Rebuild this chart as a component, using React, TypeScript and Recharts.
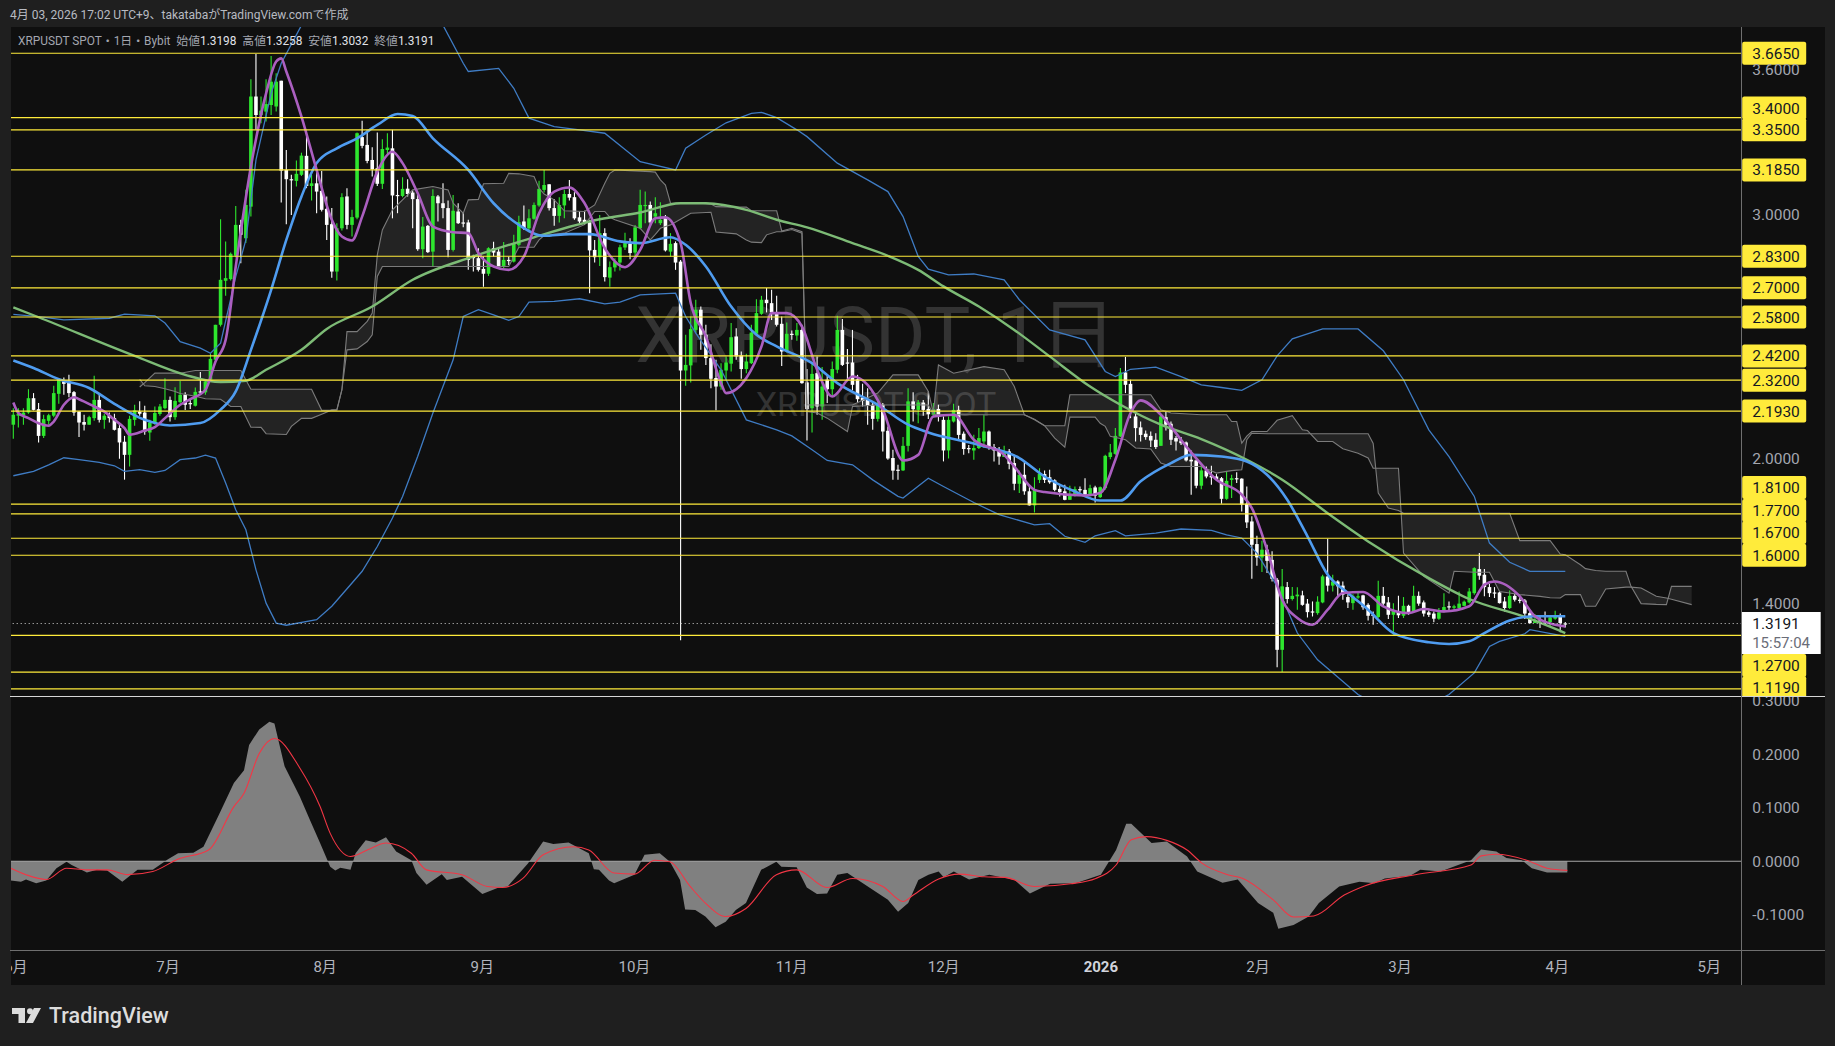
import React from 'react';
import { ComposedChart, Bar, Line, Area, XAxis, YAxis, ReferenceLine } from 'recharts';

// Daily candles, May 31 2025 .. Apr 3 2026
const opens = [
  2.137,2.174,2.176,2.187,2.246,2.201,2.091,2.153,2.174,2.264,2.315,2.315,2.271,2.191,2.148,2.137,2.164,2.239,2.157,2.176,
  2.164,2.123,2.067,2.013,2.157,2.191,2.187,2.105,2.141,2.181,2.205,2.239,2.168,2.230,2.260,2.226,2.215,2.274,2.270,2.322,
  2.404,2.548,2.729,2.736,2.832,2.959,2.904,3.034,3.487,3.411,3.425,3.452,3.446,3.552,3.185,3.147,3.140,3.165,3.243,3.119,
  3.130,3.099,3.025,2.962,2.767,2.945,3.076,2.959,2.989,3.320,3.288,3.226,3.192,3.128,3.267,3.274,3.082,3.078,3.108,3.092,
  3.065,2.859,2.955,2.849,3.076,3.048,3.028,2.856,3.014,2.969,2.969,2.829,2.822,2.778,2.758,2.863,2.849,2.790,2.815,2.808,
  2.877,2.973,2.945,2.984,3.039,3.103,3.126,3.028,2.996,3.039,3.086,3.073,2.990,2.980,2.970,2.856,2.826,2.925,2.742,2.784,
  2.804,2.866,2.881,2.845,2.945,3.039,3.041,2.993,2.966,2.990,2.849,2.884,2.808,2.360,2.381,2.527,2.610,2.507,2.411,2.329,
  2.294,2.360,2.388,2.500,2.422,2.366,2.390,2.511,2.593,2.651,2.637,2.599,2.552,2.438,2.511,2.504,2.527,2.311,2.205,2.349,
  2.212,2.322,2.283,2.363,2.527,2.393,2.393,2.324,2.249,2.240,2.219,2.161,2.219,2.112,2.000,1.952,1.949,2.050,2.233,2.198,
  2.228,2.202,2.178,2.202,2.157,2.031,2.150,2.198,2.100,2.041,2.031,2.041,2.068,2.109,2.045,2.031,2.004,2.027,1.979,1.894,
  1.931,1.863,1.805,1.910,1.934,1.921,1.908,1.873,1.863,1.828,1.849,1.872,1.869,1.849,1.879,1.839,1.876,2.004,2.017,2.089,
  2.352,2.305,2.171,2.126,2.100,2.091,2.075,2.050,2.168,2.141,2.082,2.072,2.064,1.993,1.990,1.886,1.949,1.927,1.924,1.917,
  1.832,1.910,1.917,1.915,1.812,1.739,1.646,1.591,1.623,1.581,1.499,1.211,1.469,1.420,1.431,1.435,1.401,1.369,1.362,1.406,
  1.513,1.475,1.492,1.475,1.428,1.403,1.428,1.435,1.396,1.355,1.346,1.433,1.406,1.355,1.365,1.351,1.392,1.369,1.433,1.406,
  1.365,1.360,1.339,1.369,1.390,1.384,1.383,1.392,1.406,1.444,1.543,1.520,1.469,1.447,1.447,1.410,1.383,1.433,1.417,1.414,
  1.362,1.321,1.338,1.328,1.325,1.339,1.351,1.3198,
];
const highs = [
  2.205,2.205,2.205,2.283,2.267,2.226,2.178,2.182,2.297,2.328,2.331,2.342,2.276,2.191,2.178,2.174,2.338,2.260,2.182,2.187,
  2.182,2.141,2.091,2.174,2.219,2.233,2.215,2.157,2.212,2.222,2.328,2.253,2.291,2.317,2.270,2.242,2.290,2.354,2.322,2.428,
  2.548,2.982,2.891,2.845,3.037,2.980,3.103,3.558,3.662,3.487,3.558,3.654,3.583,3.552,3.267,3.165,3.224,3.256,3.333,3.165,
  3.185,3.181,3.076,3.028,2.966,3.089,3.110,3.021,3.339,3.387,3.350,3.278,3.339,3.311,3.336,3.350,3.144,3.155,3.147,3.100,
  3.082,2.991,2.959,3.106,3.082,3.130,3.059,3.082,3.048,3.010,2.980,2.836,2.863,2.829,2.867,2.890,2.863,2.889,2.829,2.918,
  2.997,3.039,3.023,3.051,3.141,3.185,3.126,3.065,3.073,3.103,3.144,3.093,3.014,3.017,2.980,2.897,3.000,2.945,2.808,2.822,
  2.877,2.927,2.904,2.959,3.103,3.096,3.055,3.073,3.052,3.000,2.925,2.891,2.815,2.507,2.582,2.651,2.623,2.548,2.468,2.404,
  2.390,2.418,2.555,2.534,2.438,2.429,2.548,2.653,2.667,2.699,2.692,2.667,2.582,2.557,2.525,2.555,2.548,2.366,2.390,2.418,
  2.374,2.338,2.397,2.585,2.572,2.448,2.527,2.342,2.305,2.287,2.226,2.233,2.226,2.130,2.034,1.972,2.086,2.287,2.270,2.239,
  2.239,2.274,2.226,2.219,2.171,2.171,2.223,2.215,2.109,2.054,2.096,2.123,2.178,2.113,2.058,2.045,2.050,2.037,2.013,1.949,
  1.986,1.883,1.921,1.958,1.949,1.952,1.913,1.886,1.890,1.886,1.883,1.883,1.917,1.890,1.886,1.883,2.013,2.058,2.123,2.370,
  2.416,2.322,2.191,2.150,2.113,2.109,2.102,2.174,2.191,2.150,2.091,2.086,2.068,2.031,1.993,1.976,1.965,1.968,1.934,1.922,
  1.945,1.931,1.941,1.917,1.883,1.760,1.680,1.660,1.643,1.616,1.506,1.543,1.490,1.469,1.468,1.454,1.420,1.410,1.431,1.520,
  1.668,1.520,1.497,1.492,1.440,1.440,1.451,1.438,1.403,1.369,1.495,1.469,1.428,1.403,1.433,1.428,1.396,1.475,1.451,1.414,
  1.373,1.369,1.383,1.444,1.410,1.396,1.451,1.414,1.465,1.551,1.609,1.543,1.483,1.469,1.451,1.428,1.455,1.442,1.433,1.420,
  1.373,1.358,1.349,1.369,1.351,1.372,1.360,1.3258,
];
const lows = [
  2.079,2.126,2.137,2.182,2.196,2.064,2.082,2.137,2.168,2.223,2.260,2.250,2.174,2.086,2.113,2.137,2.153,2.146,2.120,2.146,
  2.113,1.997,1.911,1.965,2.133,2.174,2.096,2.071,2.137,2.174,2.201,2.150,2.157,2.226,2.198,2.202,2.212,2.260,2.260,2.315,
  2.397,2.541,2.667,2.730,2.826,2.801,2.884,2.993,3.350,3.377,3.384,3.411,3.425,3.051,2.962,3.000,3.117,3.160,3.110,3.059,
  3.007,3.014,2.897,2.742,2.730,2.936,2.941,2.911,2.982,3.274,3.213,3.158,3.119,3.107,3.247,2.986,3.007,3.073,3.076,2.945,
  2.853,2.822,2.843,2.788,2.973,2.986,2.826,2.849,2.963,2.949,2.774,2.767,2.767,2.705,2.749,2.829,2.788,2.781,2.794,2.804,
  2.870,2.938,2.938,2.980,3.034,3.092,3.018,2.955,2.969,2.986,3.059,2.980,2.966,2.959,2.678,2.804,2.790,2.726,2.705,2.767,
  2.771,2.856,2.818,2.822,2.941,2.966,2.959,2.966,2.959,2.849,2.829,2.774,1.250,2.297,2.311,2.514,2.445,2.383,2.287,2.196,
  2.281,2.322,2.356,2.404,2.326,2.349,2.387,2.507,2.589,2.599,2.568,2.541,2.379,2.434,2.486,2.482,2.305,2.072,2.105,2.178,
  2.157,2.226,2.256,2.349,2.379,2.322,2.278,2.226,2.212,2.137,2.116,2.150,2.027,1.993,1.911,1.911,1.947,2.027,2.150,2.143,
  2.174,2.160,2.168,2.150,1.986,1.998,2.146,2.072,2.013,2.020,1.993,2.037,2.041,2.034,1.986,1.972,2.004,1.954,1.867,1.856,
  1.849,1.805,1.776,1.897,1.897,1.894,1.863,1.842,1.826,1.828,1.842,1.858,1.842,1.842,1.817,1.835,1.869,1.995,2.013,2.086,
  2.267,2.164,2.068,2.068,2.075,2.045,2.037,2.050,2.113,2.054,2.031,2.054,1.986,1.849,1.876,1.872,1.917,1.890,1.910,1.812,
  1.828,1.835,1.897,1.780,1.712,1.503,1.557,1.531,1.527,1.492,1.139,1.120,1.401,1.414,1.376,1.392,1.344,1.348,1.355,1.403,
  1.451,1.451,1.431,1.417,1.383,1.376,1.421,1.376,1.332,1.314,1.342,1.392,1.338,1.273,1.342,1.342,1.355,1.365,1.392,1.348,
  1.346,1.324,1.335,1.365,1.373,1.376,1.379,1.390,1.401,1.438,1.499,1.431,1.428,1.424,1.401,1.369,1.379,1.410,1.403,1.338,
  1.318,1.321,1.301,1.318,1.305,1.335,1.283,1.3032,
];
const closes = [
  2.178,2.182,2.187,2.246,2.198,2.091,2.160,2.176,2.267,2.324,2.305,2.267,2.187,2.146,2.137,2.168,2.239,2.157,2.174,2.164,
  2.116,2.064,2.013,2.161,2.196,2.182,2.109,2.146,2.185,2.212,2.239,2.168,2.235,2.260,2.219,2.222,2.272,2.270,2.315,2.408,
  2.548,2.733,2.740,2.840,2.959,2.918,3.041,3.487,3.411,3.429,3.456,3.548,3.548,3.182,3.147,3.143,3.169,3.244,3.119,3.130,
  3.096,3.021,2.959,2.767,2.945,3.073,2.959,2.991,3.336,3.284,3.222,3.188,3.128,3.271,3.277,3.080,3.078,3.107,3.086,3.065,
  2.859,2.952,2.847,3.078,3.048,3.028,2.856,3.017,2.966,2.966,2.815,2.822,2.774,2.758,2.863,2.845,2.790,2.815,2.811,2.881,
  2.970,2.945,2.986,3.041,3.107,3.123,3.028,2.996,3.041,3.086,3.071,2.986,2.973,2.970,2.854,2.826,2.925,2.744,2.785,2.808,
  2.867,2.884,2.843,2.949,3.041,3.041,2.969,3.007,2.980,2.854,2.881,2.804,2.360,2.383,2.530,2.610,2.507,2.411,2.326,2.294,
  2.363,2.393,2.497,2.418,2.366,2.397,2.516,2.596,2.651,2.637,2.599,2.548,2.438,2.511,2.508,2.527,2.308,2.201,2.346,2.212,
  2.294,2.283,2.366,2.527,2.383,2.389,2.301,2.242,2.235,2.215,2.161,2.219,2.109,1.998,1.948,1.948,2.050,2.233,2.201,2.228,
  2.198,2.180,2.201,2.171,2.031,2.157,2.198,2.095,2.037,2.037,2.041,2.082,2.109,2.041,2.031,2.006,2.027,1.976,1.894,1.931,
  1.863,1.805,1.872,1.935,1.910,1.900,1.869,1.860,1.828,1.845,1.872,1.867,1.849,1.876,1.845,1.880,2.009,2.023,2.091,2.352,
  2.301,2.191,2.123,2.095,2.086,2.072,2.045,2.171,2.137,2.075,2.068,2.061,1.990,1.986,1.886,1.949,1.924,1.920,1.913,1.832,
  1.906,1.917,1.913,1.808,1.735,1.643,1.591,1.623,1.577,1.503,1.211,1.472,1.420,1.433,1.438,1.396,1.366,1.365,1.409,1.513,
  1.475,1.492,1.472,1.438,1.406,1.431,1.431,1.386,1.351,1.353,1.433,1.401,1.355,1.373,1.353,1.392,1.360,1.433,1.401,1.360,
  1.355,1.339,1.365,1.387,1.387,1.390,1.401,1.409,1.451,1.547,1.516,1.469,1.444,1.444,1.403,1.383,1.433,1.417,1.413,1.360,
  1.321,1.335,1.331,1.324,1.344,1.351,1.321,1.3191,
];

// Indicator curves as [bar index, price] points
const smaLine: [number, number][] = [
  [0,2.620],[5,2.579],[24,2.420],[34,2.342],[41,2.312],[46,2.318],[50,2.363],[57,2.445],[62,2.531],[71,2.623],[79,2.733],[91,2.829],
  [103,2.908],[116,2.982],[124,3.010],[132,3.048],[137,3.048],[145,3.021],[151,2.980],[157,2.949],[166,2.884],[173,2.832],[179,2.774],
  [184,2.706],[191,2.623],[198,2.527],[205,2.418],[213,2.294],[219,2.219],[227,2.137],[235,2.078],[244,1.993],[251,1.911],[260,1.773],
  [268,1.657],[280,1.506],[288,1.420],[299,1.346],[307,1.280],
];
const bbMid: [number, number][] = [
  [0,2.401],[4,2.370],[9,2.324],[15,2.288],[20,2.223],[26,2.157],[31,2.134],[37,2.144],[41,2.199],[44,2.274],[47,2.445],[51,2.692],
  [54,2.897],[57,3.076],[60,3.213],[64,3.274],[68,3.315],[72,3.370],[76,3.415],[79,3.407],[83,3.315],[90,3.185],[95,3.048],[100,2.959],
  [105,2.914],[110,2.921],[114,2.921],[120,2.891],[124,2.884],[130,2.908],[133,2.877],[137,2.788],[142,2.623],[147,2.507],[151,2.459],
  [158,2.390],[163,2.308],[171,2.219],[177,2.137],[181,2.105],[191,2.054],[199,2.000],[204,1.924],[210,1.862],[215,1.825],[219,1.825],
  [223,1.904],[229,1.979],[233,2.013],[239,2.006],[244,1.986],[248,1.931],[252,1.828],[256,1.678],[260,1.520],[264,1.445],[268,1.376],
  [273,1.280],[280,1.242],[284,1.235],[288,1.246],[291,1.280],[296,1.332],[301,1.349],[307,1.349],
];
const bbUpper: [number, number][] = [
  [0,2.591],[5,2.582],[10,2.568],[19,2.575],[22,2.592],[28,2.585],[30,2.555],[33,2.479],[37,2.452],[39,2.431],[41,2.472],[44,2.746],
  [46,2.897],[48,3.226],[51,3.500],[53,3.624],[57,3.780],[70,4.300],[85,3.780],[89,3.624],[90,3.590],[96,3.603],[99,3.521],[102,3.398],
  [107,3.363],[112,3.350],[117,3.336],[124,3.219],[131,3.185],[133,3.274],[137,3.329],[141,3.379],[146,3.418],[148,3.422],[151,3.400],
  [155,3.350],[157,3.322],[163,3.213],[169,3.144],[173,3.096],[176,2.993],[179,2.829],[181,2.777],[185,2.753],[190,2.757],[196,2.733],
  [199,2.651],[205,2.527],[212,2.486],[216,2.356],[218,2.335],[221,2.365],[226,2.374],[231,2.335],[235,2.301],[239,2.290],[243,2.278],
  [247,2.322],[250,2.420],[253,2.490],[259,2.531],[266,2.531],[271,2.441],[275,2.322],[280,2.116],[284,2.006],[289,1.842],[292,1.650],
  [296,1.571],[300,1.534],[307,1.534],
];
const bbLower: [number, number][] = [
  [0,1.927],[4,1.945],[7,1.972],[10,2.001],[13,1.993],[17,1.982],[20,1.968],[22,1.945],[25,1.952],[28,1.941],[30,1.949],[33,1.993],
  [36,2.000],[38,2.012],[40,2.000],[42,1.897],[44,1.787],[46,1.705],[48,1.540],[50,1.403],[52,1.321],[54,1.312],[60,1.335],[63,1.390],
  [67,1.486],[69,1.534],[72,1.636],[75,1.753],[77,1.842],[80,2.007],[83,2.185],[87,2.404],[89,2.582],[92,2.610],[95,2.589],[98,2.566],
  [100,2.582],[102,2.641],[107,2.644],[112,2.655],[117,2.634],[120,2.641],[124,2.671],[131,2.678],[133,2.582],[135,2.514],[140,2.363],
  [145,2.157],[151,2.116],[154,2.091],[158,2.034],[161,1.990],[166,1.972],[170,1.910],[175,1.842],[176,1.835],[181,1.917],[184,1.883],
  [190,1.817],[195,1.767],[202,1.725],[205,1.730],[208,1.678],[212,1.653],[214,1.680],[218,1.701],[220,1.680],[226,1.691],[231,1.708],
  [237,1.702],[240,1.684],[243,1.671],[246,1.609],[250,1.472],[254,1.280],[258,1.170],[266,1.027],[275,0.930],[284,1.027],[289,1.116],
  [292,1.225],[294,1.246],[299,1.277],[300,1.294],[307,1.266],
];
const fastLine: [number, number][] = [
  [0,2.228],[1,2.185],[3,2.164],[5,2.143],[7,2.133],[8,2.150],[10,2.219],[12,2.250],[13,2.242],[16,2.212],[18,2.191],[20,2.157],[22,2.123],
  [23,2.096],[26,2.113],[28,2.127],[30,2.164],[33,2.219],[35,2.242],[38,2.281],[40,2.397],[42,2.486],[44,2.788],[47,3.199],[50,3.500],
  [52,3.631],[53,3.644],[54,3.590],[57,3.404],[60,3.185],[63,2.980],[65,2.911],[67,2.895],[69,2.993],[72,3.178],[75,3.260],[77,3.213],
  [80,3.089],[83,2.952],[87,2.929],[90,2.925],[92,2.843],[95,2.788],[98,2.774],[101,2.829],[104,3.007],[107,3.096],[110,3.113],[113,3.048],
  [117,2.863],[121,2.785],[124,2.856],[127,2.986],[129,2.990],[132,2.884],[134,2.637],[137,2.500],[140,2.308],[141,2.267],[145,2.329],
  [148,2.459],[150,2.596],[153,2.596],[156,2.541],[159,2.363],[162,2.253],[166,2.335],[169,2.301],[172,2.198],[176,1.990],[179,2.013],
  [182,2.171],[186,2.178],[190,2.075],[196,2.013],[198,1.965],[202,1.869],[204,1.860],[212,1.846],[215,1.856],[218,1.993],[221,2.185],
  [223,2.237],[227,2.178],[232,2.048],[238,1.911],[243,1.849],[245,1.794],[248,1.623],[251,1.417],[254,1.342],[257,1.314],[260,1.376],
  [263,1.445],[267,1.449],[271,1.390],[276,1.362],[279,1.379],[283,1.369],[288,1.390],[291,1.479],[293,1.492],[298,1.431],[301,1.349],
  [305,1.314],[307,1.307],
];

// Ichimoku cloud, both spans on the same bar indexes
const cloudIdx = [
  25,26,28,30,32,33,36,38,41,43,45,47,49,50,54,55,57,59,61,63,64,65,66,68,70,71,72,73,75,79,83,86,87,89,90,92,93,97,98,100,103,104,105,107,109,
  113,115,117,118,119,124,126,127,128,129,130,134,138,139,143,145,146,148,149,151,152,154,156,157,159,161,165,166,171,174,179,181,182,183,186,
  192,196,198,200,202,204,206,208,209,214,215,216,217,220,222,225,227,229,235,238,240,241,242,243,244,245,248,250,253,255,256,258,261,263,266,
  268,269,270,272,274,275,279,284,285,289,292,294,296,298,302,304,306,307,310,311,313,315,319,320,322,325,327,328,332,
];
const spanA = [
  2.292,2.310,2.349,2.349,2.349,2.349,2.360,2.360,2.360,2.360,2.360,2.283,2.283,2.283,2.283,2.283,2.283,2.283,2.196,2.196,2.198,2.281,2.520,2.520,2.562,2.596,2.836,2.938,3.021,3.103,3.117,3.103,3.048,3.007,3.062,3.064,3.128,3.130,3.171,3.169,3.158,3.110,3.086,3.062,3.017,
  3.014,3.041,3.130,3.171,3.185,3.180,3.178,3.176,3.144,3.123,3.048,3.050,3.045,3.034,3.032,3.032,3.017,3.017,3.017,3.017,2.934,2.945,2.931,2.219,2.218,2.218,2.218,2.218,2.267,2.342,2.342,2.274,2.185,2.383,2.349,
  2.376,2.363,2.294,2.178,2.160,2.133,2.133,2.133,2.260,2.260,2.260,2.260,2.260,2.260,2.260,2.260,2.198,2.185,2.178,2.178,2.178,2.150,2.150,2.061,2.090,2.109,2.109,2.155,2.174,2.116,2.113,2.068,2.068,2.038,2.020,
  2.000,1.958,1.958,1.958,1.958,1.609,1.513,1.444,1.534,1.530,1.530,1.451,1.445,1.438,1.431,1.425,1.424,1.438,1.438,1.390,1.390,1.461,1.469,1.469,1.465,1.431,1.424,1.419,1.397,
];
const spanB = [
  2.324,2.297,2.294,2.285,2.274,2.265,2.254,2.244,2.242,2.212,2.212,2.127,2.126,2.100,2.097,2.130,2.163,2.163,2.180,2.198,2.198,2.281,2.445,2.449,2.479,2.507,2.747,2.788,2.788,2.788,2.788,2.788,2.788,2.788,2.788,2.788,2.788,2.788,2.788,2.867,2.867,2.897,2.915,2.920,2.925,
  2.960,3.014,3.014,2.990,2.980,2.945,2.897,2.920,2.945,2.952,2.959,3.007,3.011,2.930,2.922,2.897,2.888,2.886,2.918,2.931,2.931,2.940,2.925,2.191,2.185,2.164,2.109,2.212,2.218,2.218,2.218,2.218,2.180,2.178,2.178,
  2.178,2.178,2.178,2.178,2.157,2.133,2.082,2.045,2.168,2.168,2.143,2.130,2.089,2.075,2.041,2.037,1.979,1.965,1.965,1.938,1.945,1.948,1.950,1.952,2.075,2.102,2.100,2.100,2.100,2.100,2.100,2.100,2.100,2.100,2.100,
  2.100,2.060,1.856,1.794,1.784,1.773,1.773,1.773,1.773,1.773,1.773,1.773,1.773,1.660,1.660,1.660,1.605,1.602,1.561,1.545,1.537,1.534,1.534,1.472,1.401,1.398,1.397,1.472,1.472,
];

// Lower pane
const oscArea: [number, number][] = [
  [0,-0.036],[2,-0.038],[3,-0.034],[5,-0.041],[7,-0.036],[9,-0.013],[11,-0.001],[12,-0.007],[15,-0.021],[17,-0.016],[19,-0.017],[22,-0.038],
  [25,-0.016],[28,-0.016],[31,0.004],[33,0.015],[36,0.016],[38,0.027],[41,0.086],[44,0.146],[46,0.170],[47,0.217],[49,0.246],[51,0.260],
  [52,0.257],[54,0.177],[57,0.121],[59,0.077],[61,0.034],[63,-0.010],[64,-0.017],[65,-0.012],[67,-0.016],[68,0.015],[70,0.039],[72,0.035],
  [74,0.045],[76,0.018],[79,0.002],[80,-0.022],[82,-0.044],[85,-0.024],[86,-0.035],[89,-0.029],[93,-0.061],[96,-0.050],[98,-0.047],[102,-0.004],
  [105,0.037],[107,0.032],[110,0.035],[114,0.015],[115,-0.015],[116,-0.016],[118,-0.036],[119,-0.041],[123,-0.025],[125,0.012],[128,0.015],
  [130,-0.001],[132,-0.035],[133,-0.090],[135,-0.091],[137,-0.103],[139,-0.123],[141,-0.113],[143,-0.091],[145,-0.078],[148,-0.016],[151,-0.001],
  [152,-0.010],[155,-0.011],[157,-0.049],[159,-0.061],[161,-0.060],[163,-0.025],[165,-0.022],[170,-0.053],[173,-0.072],[175,-0.094],[177,-0.078],
  [179,-0.035],[181,-0.025],[183,-0.019],[184,-0.030],[186,-0.019],[189,-0.034],[193,-0.025],[198,-0.035],[201,-0.060],[205,-0.042],[210,-0.041],
  [215,-0.025],[218,0.021],[220,0.070],[221,0.070],[225,0.034],[228,0.037],[232,0.009],[234,-0.019],[239,-0.040],[242,-0.034],[246,-0.078],
  [249,-0.096],[250,-0.126],[253,-0.119],[256,-0.103],[258,-0.078],[262,-0.047],[266,-0.038],[269,-0.041],[271,-0.032],[276,-0.027],[278,-0.016],
  [282,-0.019],[286,-0.005],[288,0.002],[290,0.022],[293,0.018],[295,0.006],[298,0.002],[300,-0.013],[303,-0.021],[307,-0.021],
];
const oscSignal: [number, number][] = [
  [0,-0.013],[3,-0.025],[7,-0.034],[11,-0.013],[15,-0.016],[19,-0.016],[23,-0.025],[28,-0.019],[33,0.004],[39,0.021],[44,0.102],[46,0.127],
  [49,0.201],[52,0.229],[57,0.174],[61,0.102],[63,0.052],[67,0.009],[71,0.024],[74,0.034],[79,0.015],[82,-0.016],[89,-0.025],[94,-0.047],
  [97,-0.049],[101,-0.032],[105,0.012],[111,0.027],[114,0.021],[119,-0.022],[123,-0.024],[127,0.002],[130,-0.001],[134,-0.047],[137,-0.078],
  [141,-0.103],[145,-0.088],[151,-0.025],[155,-0.016],[161,-0.049],[166,-0.032],[172,-0.047],[176,-0.075],[178,-0.063],[183,-0.033],[187,-0.024],
  [192,-0.029],[196,-0.030],[202,-0.047],[209,-0.042],[214,-0.032],[218,-0.007],[221,0.040],[224,0.046],[228,0.039],[232,0.021],[235,-0.004],
  [240,-0.025],[243,-0.032],[249,-0.072],[253,-0.104],[257,-0.102],[263,-0.063],[267,-0.046],[277,-0.025],[288,-0.007],[290,0.010],[293,0.013],
  [299,0.002],[303,-0.013],[307,-0.017],
];

// Horizontal support/resistance levels drawn by the author
const levels = [3.665, 3.4, 3.35, 3.185, 2.83, 2.7, 2.58, 2.42, 2.32, 2.193, 1.81, 1.77, 1.67, 1.6, 1.27, 1.119];
const extraLevel = 1.05;
const lastPrice = 1.3191;
// the other round prices sit behind the yellow level tags in the reference
const priceTicks = [3.6, 3.0, 2.0, 1.4];
const oscTicks = [0.3, 0.2, 0.1, 0, -0.1];
const monthTicks = [1, 31, 62, 93, 123, 154, 184, 215, 246, 274, 305, 335];
const monthNames = ['6月', '7月', '8月', '9月', '10月', '11月', '12月', '2026', '2月', '3月', '4月', '5月'];

// Axis tags get pushed apart when they would overlap
const TAG_SHIFT: Record<number, number> = { 3.4: -9.6, 1.81: -16.6, 1.77: -3.3, 1.67: -5.8, 1.27: 30, 1.119: 15.5 };

const BAR_COUNT = 342;
const FONT = 'Roboto, "Noto Sans CJK JP", sans-serif';
const GREEN = '#2ee62e';

const byIndex = (pts: [number, number][]) => new Map(pts.map(p => [p[0], p[1]]));
const smaMap = byIndex(smaLine);
const midMap = byIndex(bbMid);
const upMap = byIndex(bbUpper);
const lowMap = byIndex(bbLower);
const fastMap = byIndex(fastLine);
const areaMap = byIndex(oscArea);
const signalMap = byIndex(oscSignal);

const rows = Array.from({ length: BAR_COUNT }, (_, i) => {
  const c = cloudIdx.indexOf(i);
  return {
    i,
    open: opens[i],
    high: highs[i],
    low: lows[i],
    close: closes[i],
    range: i < opens.length ? [lows[i], highs[i]] : null,
    sma: smaMap.get(i) ?? null,
    mid: midMap.get(i) ?? null,
    up: upMap.get(i) ?? null,
    dn: lowMap.get(i) ?? null,
    fast: fastMap.get(i) ?? null,
    a: c >= 0 ? spanA[c] : null,
    b: c >= 0 ? spanB[c] : null,
    cloud: c >= 0 ? [spanA[c], spanB[c]] : null,
    osc: areaMap.get(i) ?? null,
    signal: signalMap.get(i) ?? null,
  };
});

const Candle = (props: any) => {
  const { x, y, width, height, payload } = props;
  if (payload.range == null) return null;
  const { open, high, low, close } = payload;
  const k = height / (high - low);
  const cx = x + width / 2;
  const color = close >= open ? GREEN : '#ffffff';
  const top = y + (high - Math.max(open, close)) * k;
  const h = Math.max(1.2, Math.abs(open - close) * k);
  return (
    <g>
      <line x1={cx} x2={cx} y1={y} y2={y + height} stroke={color} strokeWidth={1.1} />
      <rect x={cx - 1.8} y={top} width={3.6} height={h} fill={color} />
    </g>
  );
};

const LevelTag = (props: any) => {
  const { viewBox, value } = props;
  const right = viewBox.x + viewBox.width;
  const cy = viewBox.y + (TAG_SHIFT[value] || 0);
  return (
    <g>
      <rect x={right + 0.5} y={cy - 11.5} width={64} height={23} rx={2} fill="#ffeb3b" />
      <text x={right + 10.5} y={cy + 5.5} fill="#131722" fontSize={15.5} fontFamily={FONT}>{value.toFixed(4)}</text>
    </g>
  );
};

const LastTag = (props: any) => {
  const { viewBox } = props;
  const right = viewBox.x + viewBox.width;
  return (
    <g>
      <rect x={right} y={612} width={79} height={42} fill="#ffffff" />
      <text x={right + 10.5} y={629} fill="#131722" fontSize={15.5} fontFamily={FONT}>{lastPrice.toFixed(4)}</text>
      <text x={right + 10.5} y={648} fill="#6a6d78" fontSize={15} fontFamily={FONT}>15:57:04</text>
    </g>
  );
};

const MonthTick = (props: any) => {
  const { x, y, payload } = props;
  const label = monthNames[monthTicks.indexOf(payload.value)];
  const isYear = label === '2026';
  return (
    <text x={x} y={y + 8} textAnchor="middle" fill={isYear ? '#d1d4dc' : '#b2b5be'} fontSize={15} fontWeight={isYear ? 700 : 400} fontFamily={FONT}>
      {label}
    </text>
  );
};

const tickStyle = { fill: '#a3a6af', fontSize: 15.5, fontFamily: FONT };
const bgBox = (left: number, top: number, width: number, height: number, background: string): React.CSSProperties => ({
  position: 'absolute', left, top, width, height, background,
});

const App: React.FC = () => {
  return (
    <div style={{ position: 'absolute', left: 0, top: 0, width: 1835, height: 1046, background: '#1f1f1f', overflow: 'hidden', fontFamily: FONT }}>
      <div style={bgBox(10, 27, 1815, 958, '#0f0f0f')} />

      <div style={{ position: 'absolute', left: 11, width: 1730, top: 286, textAlign: 'center', color: '#333333', fontSize: 77, lineHeight: '100px', whiteSpace: 'nowrap' }}>
        XRPUSDT, 1日
      </div>
      <div style={{ position: 'absolute', left: 11, width: 1730, top: 381, textAlign: 'center', color: '#333333', fontSize: 34, lineHeight: '46px', whiteSpace: 'nowrap' }}>
        XRPUSDT SPOT
      </div>

      <div style={{ position: 'absolute', left: 0, top: 0 }}>
        <ComposedChart width={1835} height={696} data={rows} margin={{ top: 27, right: 10.3, bottom: 0, left: 10.8 }}>
          <XAxis dataKey="i" type="category" hide padding={{ left: 0, right: 2 }} />
          <YAxis
            orientation="right"
            width={83}
            domain={[1.021, 3.773]}
            allowDataOverflow
            ticks={priceTicks}
            interval={0}
            axisLine={false}
            tickLine={false}
            tickSize={0}
            tickMargin={10.5}
            tick={tickStyle}
            tickFormatter={(v: number) => v.toFixed(4)}
          />
          <Area dataKey="cloud" type="linear" connectNulls stroke="none" fill="#ffffff" fillOpacity={0.085} isAnimationActive={false} dot={false} activeDot={false} />
          <Line dataKey="a" type="linear" connectNulls stroke="#7b7b7b" strokeWidth={1.1} dot={false} activeDot={false} isAnimationActive={false} />
          <Line dataKey="b" type="linear" connectNulls stroke="#7b7b7b" strokeWidth={1.1} dot={false} activeDot={false} isAnimationActive={false} />
          <Line dataKey="up" type="linear" connectNulls stroke="#3f7cc4" strokeWidth={1.3} dot={false} activeDot={false} isAnimationActive={false} />
          <Line dataKey="dn" type="linear" connectNulls stroke="#3f7cc4" strokeWidth={1.3} dot={false} activeDot={false} isAnimationActive={false} />
          <Bar dataKey="range" shape={<Candle />} isAnimationActive={false} />
          <Line dataKey="sma" type="monotone" connectNulls stroke="#7dbb76" strokeWidth={2.4} dot={false} activeDot={false} isAnimationActive={false} />
          <Line dataKey="mid" type="monotone" connectNulls stroke="#4f9cf0" strokeWidth={2.6} dot={false} activeDot={false} isAnimationActive={false} />
          <Line dataKey="fast" type="monotone" connectNulls stroke="#ab5fc0" strokeWidth={2.6} dot={false} activeDot={false} isAnimationActive={false} />
          <ReferenceLine y={extraLevel} stroke="#ffeb3b" strokeWidth={1.2} />
          <ReferenceLine y={lastPrice} stroke="#d8d8d8" strokeDasharray="1 3" label={<LastTag />} />
          {levels.map(lv => (
            <ReferenceLine key={lv} y={lv} stroke="#ffeb3b" strokeWidth={1.2} label={<LevelTag value={lv} />} />
          ))}
        </ComposedChart>
      </div>

      <div style={{ position: 'absolute', left: 0, top: 696 }}>
        <ComposedChart width={1835} height={289} data={rows} margin={{ top: 0.3, right: 10.3, bottom: 0, left: 10.8 }}>
          <XAxis
            dataKey="i"
            type="category"
            height={35}
            ticks={monthTicks}
            interval={0}
            padding={{ left: 0, right: 2 }}
            axisLine={false}
            tickLine={false}
            tick={<MonthTick />}
            tickMargin={8}
          />
          <YAxis
            orientation="right"
            width={83}
            domain={[-0.1655, 0.3077]}
            allowDataOverflow
            ticks={oscTicks}
            interval={0}
            axisLine={false}
            tickLine={false}
            tickSize={0}
            tickMargin={10.5}
            tick={tickStyle}
            tickFormatter={(v: number) => v.toFixed(4)}
          />
          <Area dataKey="osc" type="linear" connectNulls stroke="none" fill="#808080" fillOpacity={1} baseValue={0} dot={false} activeDot={false} isAnimationActive={false} />
          <ReferenceLine y={0} stroke="#a8a8a8" strokeWidth={1.2} />
          <Line dataKey="signal" type="monotone" connectNulls stroke="#f23645" strokeWidth={1.1} dot={false} activeDot={false} isAnimationActive={false} />
        </ComposedChart>
      </div>

      {/* pane frame */}
      <div style={bgBox(0, 0, 10.5, 1046, '#1f1f1f')} />
      <div style={bgBox(10, 696, 1815, 1, '#d6d6d6')} />
      <div style={bgBox(10, 950, 1815, 1, '#6f6f6f')} />
      <div style={bgBox(1741, 27, 1, 958, '#6f6f6f')} />

      <div style={{ position: 'absolute', left: 10, top: 7, color: '#b8bbc2', fontSize: 12, lineHeight: '16px', whiteSpace: 'nowrap' }}>
        4月 03, 2026 17:02 UTC+9、takatabaがTradingView.comで作成
      </div>
      <div style={{ position: 'absolute', left: 18, top: 33, color: '#a3a6af', fontSize: 11.85, lineHeight: '16px', whiteSpace: 'nowrap' }}>
        XRPUSDT SPOT・1日・Bybit&nbsp; 始値<span style={{ color: '#e0e2e8' }}>1.3198</span>&nbsp; 高値<span style={{ color: '#e0e2e8' }}>1.3258</span>&nbsp; 安値<span style={{ color: '#e0e2e8' }}>1.3032</span>&nbsp; 終値<span style={{ color: '#e0e2e8' }}>1.3191</span>
      </div>

      <svg style={{ position: 'absolute', left: 12, top: 1007 }} width={32} height={18}>
        <path d="M0 1 H13 V16 H6.5 V7 H0 Z" fill="#dcdcdc" />
        <circle cx="18" cy="4.2" r="3" fill="#dcdcdc" />
        <path d="M22 1 H29 L21 16 H14 Z" fill="#dcdcdc" />
      </svg>
      <div style={{ position: 'absolute', left: 49, top: 1003, color: '#dcdcdc', fontSize: 21.5, fontWeight: 500, lineHeight: '26px', whiteSpace: 'nowrap' }}>
        TradingView
      </div>
    </div>
  );
};

export default App;
